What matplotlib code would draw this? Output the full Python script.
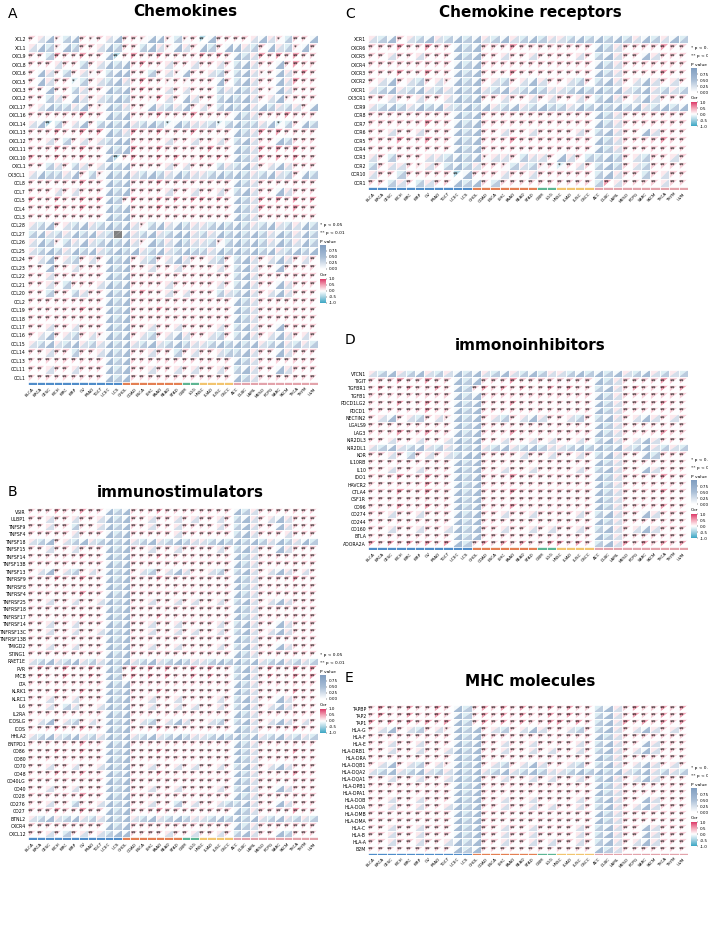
import numpy as np
import matplotlib
matplotlib.use("Agg")
import matplotlib.pyplot as plt
from matplotlib.collections import PolyCollection
from matplotlib.colors import LinearSegmentedColormap, Normalize
from matplotlib.colorbar import ColorbarBase

cancers = ["BLCA", "BRCA", "CESC", "KICH", "KIRC", "KIRP", "OV", "PRAD", "TGCT", "UCEC", "UCS",
           "CHOL", "COAD", "ESCA", "LIHC", "PAAD", "READ", "STAD",
           "GBM", "LGG",
           "HNSC", "LUAD", "LUSC", "OSCC",
           "ACC", "DLBC", "LAML", "MESO", "PCPG", "SARC", "SKCM", "THCA", "THYM", "UVM"]
group_sizes = [11, 7, 2, 4, 10]
group_colors = ["#4f8cc9", "#e47f52", "#5db592", "#f2c46f", "#e3a3ab"]

# cell codes: correlation level and p value
codes = {"R": (0.5, 0.001), "r": (0.25, 0.005), "p": (0.18, 0.03), "n": (0.12, 0.25),
         "w": (-0.05, 0.55), "b": (-0.18, 0.4), "m": (-0.2, 0.03), "B": (-0.4, 0.002),
         "x": (np.nan, np.nan)}

chemokines = [
    ("XCL2", "rnwpbwrprnw rrpwwpb pr Bwrr rrnwnpbrrw"),
    ("XCL1", "nwbpwbrrnwb rrbwnpw nr wbrw wnbrwnbpwr"),
    ("CXCL9", "rrbRrrRrrwB rRrrRrr rr RrRr wbnRrRrRrr"),
    ("CXCL8", "rrrnrrbrnwb wrRrrnr rn rrnr bwnrrwrRrr"),
    ("CXCL6", "rwnrbrnprbw wrrbrnp wr rnbr bwnprwnrRr"),
    ("CXCL5", "rwnrrmbrnbw nrRrrpr pr rrwr bwnrrwnRrr"),
    ("CXCL3", "rrwrrbnrrwb wrRrrnr nr rrbn wbnrpwnrrr"),
    ("CXCL2", "rrbnrwnrnbw brrpRnr wn rrbw bwnrnwprrr"),
    ("CXCL17", "rnwbbnwrpwb nrrwnbn wr nrbw bwnwbnbnrw"),
    ("CXCL16", "rrrrrrRrrwb wrrrRrr rR rrrr wbnrrrRrrr"),
    ("CXCL14", "nwBbrnwrbwb wnbwbmw bn nbmb wbbnwmbrwb"),
    ("CXCL13", "rrrRrrRrRwb nRrrRrr rR rrrr wbnRrRrrrr"),
    ("CXCL12", "rrnrbrnrnbw wrrrrnr rn rrnr bwnrrwbrrr"),
    ("CXCL11", "rrrRrrRrrwb wRrrRrr rr rRrr wbnRrRrRrr"),
    ("CXCL10", "RrrRrrRrrwB rRrrRrR rr RrRr wbnRrRrRrr"),
    ("CXCL1", "rrbnrbnrnwb wrrrrnr nr rrbn bwnrnwnrrr"),
    ("CX3CL1", "nwbbnwrbpwb wnbwbnw bn nbwb wbnbwnbrwb"),
    ("CCL8", "rrrrrrRrrwb wrrrRrr rr rrrr wbnrrrrrrr"),
    ("CCL7", "rrrnrnrrrwb wrrrrnr rn rrnr bwnrrwnrrr"),
    ("CCL5", "RrrRrrRrRwb rRrrRrR rR RrRr wbnRrRrRrR"),
    ("CCL4", "rrrRrrRrrwb wrrrRrr rr rrrr wbnRrrrRrr"),
    ("CCL3", "rrrrrrrrrwb wrrrrrr rr rrrr wbnrrrrrrr"),
    ("CCL28", "nbwrnbwnbwb wnpbwnw bn nbwb wbnbwnbnwb"),
    ("CCL27", "bwnbnwbwnbx wnbwnbw wn bnwb wbwbnwbnwb"),
    ("CCL26", "nwbpbnwnbwb wnpwbnw bn nbpb wbwbnwbnwb"),
    ("CCL25", "nbwbnwbwnbw bwnbwnb wb bnwb wbwbwnbwbw"),
    ("CCL24", "rnwrnbrnrwb wrnbrnw nr rnbr bwnrnwnrnr"),
    ("CCL23", "rrwrrnrrrwb wrrnrrn rr rrnr bwnrrwrrrr"),
    ("CCL22", "rrnrrrrrrwb wrrrrrr rr rrrr bwnrrrrrrr"),
    ("CCL21", "rrnrbrrrnwb wrrrrnr rr rrnr bwnrrwnrrr"),
    ("CCL20", "rrbrrbnrrwb wrRrrnr nr rrbn bwnrnwnrrr"),
    ("CCL2", "rrrrrrrrrwb wrrrrrr rr rrrr wbnrrrrrrr"),
    ("CCL19", "rrrrrrRrrwb wrrrRrr rr rrrr wbnrrrrrrr"),
    ("CCL18", "rrrrrrrrrwb wrrrrrr rr rrrr wbnrrrrrrr"),
    ("CCL17", "rrnrrnrrrwb wrrnrrn rr rrnr bwnrrwrrrr"),
    ("CCL16", "rnwrnbrnpwb wrnbrnw nr rnbr bwnrnwnrnr"),
    ("CCL15", "nbwnbwnbnwb wnbwnbw bn nbwb wbwnbwnbnb"),
    ("CCL14", "rrnrrbrrnwb wrrnrrb rn rrnb bwnrrwnrrr"),
    ("CCL13", "rrrrrrrrrwb wrrrrrr rr rrrr wbnrrrrrrr"),
    ("CCL11", "rrnrrnrrrwb wrrnrrn rn rrnr bwnrrwnrrr"),
    ("CCL1", "rrrrrrrrrwb wrrrrrr rr rrrr wbnrrrrrrr"),
]

stimulators = [
    ("VSIR", "rrrRrrRrrwb wrrrRrr rr rrrr wbnrrrrrrr"),
    ("ULBP1", "rrnrrnrrnwb wrrnrrn rn rrnr bwnrnwnrrr"),
    ("TNFSF9", "rrnrrbrrnwb wrrnrrn rr rrnr bwnrrwnrrr"),
    ("TNFSF4", "rrrrrnrrrwb wrrrrrn rr rrrr bwnrrrnrrr"),
    ("TNFSF18", "nbwrnbwnbwb wnbwnbw bn nbwb wbwbnwbnwb"),
    ("TNFSF15", "rrnrrnrrrwb wrrnrrn rr rrnr bwnrrwnrrr"),
    ("TNFSF14", "rrrrrrRrrwb wrrrRrr rr rrrr wbnrrrrrrr"),
    ("TNFSF13B", "rrrrrrrrrwb wrrrrrr rr rrrr wbnrrrrrrr"),
    ("TNFSF13", "rnwrnbrnpwb wrnbrnw nr rnbr bwnrnwnrnr"),
    ("TNFRSF9", "rrrRrrRrrwb wrrrRrr rr rrrr wbnrrrrRrr"),
    ("TNFRSF8", "rrrrrrrrrwb wrrrrrr rr rrrr wbnrrrrrrr"),
    ("TNFRSF4", "rrrrrrRrrwb wrrrrrr rr rrrr wbnrrrrrrr"),
    ("TNFRSF25", "rrnrrnrrnwb wrrnrrn rn rrnr bwnrnwnrrr"),
    ("TNFRSF18", "rrrrrrrrrwb wrrrrrr rr rrrr wbnrrrrrrr"),
    ("TNFRSF17", "rrrrrrRrrwb wrrrRrr rr rrrr wbnrrrrrrr"),
    ("TNFRSF14", "rrnrrnrrrwb wrrnrrn rr rrnr bwnrrwnrrr"),
    ("TNFRSF13C", "rrnrrnrrnwb wrrnrrn rn rrnr bwnrnwnrrr"),
    ("TNFRSF13B", "rrrrrrrrrwb wrrrrrr rr rrrr wbnrrrrrrr"),
    ("TMIGD2", "rrnrrnrrrwb wrrnrrn rr rrnr bwnrrwnrrr"),
    ("STING1", "rrrrrrrrrwb wrrrrrr rr rrrr wbnrrrrrrr"),
    ("RAET1E", "nbwnbwnbnwb wnbwnbw bn nbwb wbwnbwnbnb"),
    ("PVR", "rRrrRrrRrwb rRrRrRr rR rRrr bwnrRrrRrR"),
    ("MICB", "rRrrRrrRrwb rRrRrRr rR rRrr bwnrRrrRrR"),
    ("LTA", "rrrrrrrrrwb wrrrrrr rr rrrr wbnrrrrrrr"),
    ("KLRK1", "rrrRrrRrrwb wrrrRrr rr rrrr wbnrrrrRrr"),
    ("KLRC1", "rrnrrnrrrwb wrrnrrn rr rrnr bwnrrwnrrr"),
    ("IL6", "rrnrbnrrnwb wrrnrrn rn rrnr bwnrnwnrrr"),
    ("IL2RA", "rrrrrrrrrwb wrrrrrr rr rrrr wbnrrrrrrr"),
    ("ICOSLG", "rnwrnbrnpwb wrnbrnw nr rnbr bwnrnwnrnr"),
    ("ICOS", "rrrRrrRrrwb wrrrRrr rr rrrr wbnrrrrRrr"),
    ("HHLA2", "nbwnbwnbnwb wnbwnbw bn nbwb wbwnbwnbnb"),
    ("ENTPD1", "rrrrrrRrrwb wrrrrrr rr rrrr wbnrrrrrrr"),
    ("CD86", "rrrRrrRrrwb wrrrRrr rr rrrr wbnrrrrRrr"),
    ("CD80", "rrrrrrrrrwb wrrrrrr rr rrrr wbnrrrrrrr"),
    ("CD70", "rrnrrnrrnwb wrrnrrn rn rrnr bwnrnwnrrr"),
    ("CD48", "rrrRrrRrrwb wrrrRrr rr rrrr wbnrrrrRrr"),
    ("CD40LG", "rrrrrrrrrwb wrrrrrr rr rrrr wbnrrrrrrr"),
    ("CD40", "rrnrrnrrrwb wrrnrrn rr rrnr bwnrrwnrrr"),
    ("CD28", "rrrrrrRrrwb wrrrrrr rr rrrr wbnrrrrrrr"),
    ("CD276", "rrnrrbrrnwb wrrnrrb rn rrnb bwnrrwnrrr"),
    ("CD27", "rrrRrrRrrwb wrrrRrr rr rrrr wbnrrrrRrr"),
    ("BTNL2", "nbwnbwnbnwb wnbwnbw bn nbwb wbwnbwnbnb"),
    ("CXCR4", "rrrrrrrrrwb wrrrrrr rr rrrr wbnrrrrrrr"),
    ("CXCL12", "rrnrbrnrnbw wrrrrnr rn rrnr bwnrrwbrrr"),
]

receptors = [
    ("XCR1", "nbwrnbwnbwb wnbwnbw bn nbwb wbwbnwbnwb"),
    ("CXCR6", "rrrRrrRrrwb wrrrRrr rr rrrr wbnrrrrRrr"),
    ("CXCR5", "rrnrrnrrrwb wrrnrrn rr rrnr bwnrrwnrrr"),
    ("CXCR4", "rrrrrrrrrwb wrrrrrr rr rrrr wbnrrrrrrr"),
    ("CXCR3", "rrrRrrRrrwb wrrrRrr rr rrrr wbnrrrrRrr"),
    ("CXCR2", "rnwrnbrnpwb wrnbrnw nr rnbr bwnrnwnrnr"),
    ("CXCR1", "nbwnbwnbnwb wnbwnbw bn nbwb wbwnbwnbnb"),
    ("CX3CR1", "rrnrrnrrnwb wrrnrrn rn rrnr bwnrnwnrrr"),
    ("CCR9", "nbwbnwbwnbw bwnbwnb wb bnwb wbwbwnbwbw"),
    ("CCR8", "rrrrrrrrrwb wrrrrrr rr rrrr wbnrrrrrrr"),
    ("CCR7", "rrrrrrRrrwb wrrrrrr rr rrrr wbnrrrrrrr"),
    ("CCR6", "rrnrrnrrrwb wrrnrrn rr rrnr bwnrrwnrrr"),
    ("CCR5", "rrrRrrRrrwb wrrrRrr rr rrrr wbnrrrrRrr"),
    ("CCR4", "rrrrrrrrrwb wrrrrrr rr rrrr wbnrrrrrrr"),
    ("CCR3", "nrbrrrnnbwb wpnnrbn nr wnrb bwbrnbrrnr"),
    ("CCR2", "brnnrpnrbwb nrrpbnb pr mrnr bwbrnbrrrr"),
    ("CCR10", "nrrbrrrrrBw rrrnrrn rr rrrr bwnrrbrnrr"),
    ("CCR1", "rrbnrbnrrwb wrbrrrr rr rrrr bRnrrrrnrr"),
]

inhibitors = [
    ("VTCN1", "nbwnbwnbnwb wnbwnbw bn nbwb wbwnbwnbnb"),
    ("TIGIT", "rrrRrrRrrwb wrrrRrr rr rrrr wbnrrrrRrr"),
    ("TGFBR1", "rRrrRrrRrwb rRrRrRr rR rRrr bwnrRrrRrR"),
    ("TGFB1", "rrrrrrrrrwb wrrrrrr rr rrrr wbnrrrrrrr"),
    ("PDCD1LG2", "rrrRrrRrrwb wrrrRrr rr rrrr wbnrrrrRrr"),
    ("PDCD1", "rrrrrrRrrwb wrrrrrr rr rrrr wbnrrrrrrr"),
    ("NECTIN2", "rnwrnbrnpwb wrnbrnw nr rnbr bwnrnwnrnr"),
    ("LGALS9", "rrrrrrrrrwb wrrrrrr rr rrrr wbnrrrrrrr"),
    ("LAG3", "rrrRrrRrrwb wrrrRrr rr rrrr wbnrrrrRrr"),
    ("KIR2DL3", "rrnrrnrrnwb wrrnrrn rn rrnr bwnrnwnrrr"),
    ("KIR2DL1", "nbwnbwnbnwb wnbwnbw bn nbwb wbwnbwnbnb"),
    ("KDR", "rrnrbrnrnbw wrrrrnr rn rrnr bwnrrwbrrr"),
    ("IL10RB", "rrrrrrrrrwb wrrrrrr rr rrrr wbnrrrrrrr"),
    ("IL10", "rrnrrnrrrwb wrrnrrn rr rrnr bwnrrwnrrr"),
    ("IDO1", "rrrRrrRrrwb wrrrRrr rr rrrr wbnrrrrRrr"),
    ("HAVCR2", "rrrrrrRrrwb wrrrrrr rr rrrr wbnrrrrrrr"),
    ("CTLA4", "rrrRrrRrrwb wrrrRrr rr rrrr wbnrrrrRrr"),
    ("CSF1R", "rrrrrrrrrwb wrrrrrr rr rrrr wbnrrrrrrr"),
    ("CD96", "rrrRrrRrrwb wrrrRrr rr rrrr wbnrrrrRrr"),
    ("CD274", "rrnrrnrrrwb wrrnrrn rr rrnr bwnrrwnrrr"),
    ("CD244", "rrrrrrrrrwb wrrrrrr rr rrrr wbnrrrrrrr"),
    ("CD160", "rrnrrnrrnwb wrrnrrn rn rrnr bwnrnwnrrr"),
    ("BTLA", "rrrrrrrrrwb wrrrrrr rr rrrr wbnrrrrrrr"),
    ("ADORA2A", "RrRrRrRrRwb rRrRrRr rR RrRr bwnRrRrRrR"),
]

mhc = [
    ("TAPBP", "rRrrRrrRrwb rRrRrRr rR rRrr bwnrRrrRrR"),
    ("TAP2", "rRrrRrrRrwb rRrRrRr rR rRrr bwnrRrrRrR"),
    ("TAP1", "RrRrRrRrRwb rRrRrRr rR RrRr bwnRrRrRrR"),
    ("HLA-G", "rnwrnbrnpwb wrnbrnw nr rnbr bwnrnwnrnr"),
    ("HLA-F", "rrrrrrrrrwb wrrrrrr rr rrrr wbnrrrrrrr"),
    ("HLA-E", "rrnrrnrrrwb wrrnrrn rr rrnr bwnrrwnrrr"),
    ("HLA-DRB1", "rrnrrnrrnwb wrrnrrn rn rrnr bwnrnwnrrr"),
    ("HLA-DRA", "rrrrrrrrrwb wrrrrrr rr rrrr wbnrrrrrrr"),
    ("HLA-DQB1", "rnwrnbrnpwb wrnbrnw nr rnbr bwnrnwnrnr"),
    ("HLA-DQA2", "nbwnbwnbnwb wnbwnbw bn nbwb wbwnbwnbnb"),
    ("HLA-DQA1", "rrnrrnrrnwb wrrnrrn rn rrnr bwnrnwnrrr"),
    ("HLA-DPB1", "rrrrrrrrrwb wrrrrrr rr rrrr wbnrrrrrrr"),
    ("HLA-DPA1", "rrrrrrrrrwb wrrrrrr rr rrrr wbnrrrrrrr"),
    ("HLA-DOB", "rrnrrnrrrwb wrrnrrn rr rrnr bwnrrwnrrr"),
    ("HLA-DOA", "rrnrrnrrnwb wrrnrrn rn rrnr bwnrnwnrrr"),
    ("HLA-DMB", "rrrrrrrrrwb wrrrrrr rr rrrr wbnrrrrrrr"),
    ("HLA-DMA", "rrrrrrrrrwb wrrrrrr rr rrrr wbnrrrrrrr"),
    ("HLA-C", "rrnrrnrrrwb wrrnrrn rr rrnr bwnrrwnrrr"),
    ("HLA-B", "rrnrrnrrrwb wrrnrrn rr rrnr bwnrrwnrrr"),
    ("HLA-A", "rrnrrnrrnwb wrrnrrn rn rrnr bwnrnwnrrr"),
    ("B2M", "rrrrrrrrrwb wrrrrrr rr rrrr wbnrrrrrrr"),
]

cor_cmap = LinearSegmentedColormap.from_list(
    "cor", [(0, "#3aa6c4"), (0.25, "#a3d1e1"), (0.5, "#ffffff"), (0.75, "#f3a5b7"), (1, "#dc3a69")])
p_cmap = LinearSegmentedColormap.from_list("pv", ["#ffffff", "#a9bed6", "#7f9dc0"])
W, H = 708, 939


def to_arrays(rows):
    genes = [g for g, _ in rows]
    cor = np.array([[codes[c][0] for c in s.replace(" ", "")] for _, s in rows])
    pv = np.array([[codes[c][1] for c in s.replace(" ", "")] for _, s in rows])
    return genes, cor, pv


def heat(fig, rect, rows):
    genes, cor, pv = to_arrays(rows)
    ax = fig.add_axes([rect[0] / W, 1 - rect[3] / H, (rect[2] - rect[0]) / W, (rect[3] - rect[1]) / H])
    nr, nc = cor.shape
    up, lo, cu, cl = [], [], [], []
    for i in range(nr):
        for j in range(nc):
            up.append([(j, i), (j + 1, i), (j, i + 1)])
            lo.append([(j + 1, i), (j + 1, i + 1), (j, i + 1)])
            if np.isnan(cor[i, j]):
                cu.append((0.5, 0.5, 0.5, 1)); cl.append((0.5, 0.5, 0.5, 1))
            else:
                cu.append(cor_cmap((cor[i, j] + 1) / 2)); cl.append(p_cmap(pv[i, j]))
            if pv[i, j] < 0.05:
                ax.text(j + 0.32, i + 0.45, "**" if pv[i, j] < 0.01 else "*",
                        fontsize=4, ha="center", va="center", color="black", zorder=5)
    ax.add_collection(PolyCollection(up, facecolors=cu, edgecolors="none"))
    ax.add_collection(PolyCollection(lo, facecolors=cl, edgecolors="none"))
    # white grid between cells
    for k in range(nc + 1):
        ax.axvline(k, color="white", lw=0.6)
    for k in range(nr + 1):
        ax.axhline(k, color="white", lw=0.6)
    start = 0
    for size, col in zip(group_sizes, group_colors):
        ax.add_patch(plt.Rectangle((start, nr), size, 0.35, color=col, clip_on=False, lw=0))
        start += size
    ax.set_xlim(0, nc)
    ax.set_ylim(nr + 0.35, 0)
    ax.set_yticks(np.arange(nr) + 0.5)
    ax.set_yticklabels(genes, fontsize=3.3)
    ax.set_xticks(np.arange(nc) + 0.5)
    ax.set_xticklabels(cancers, fontsize=3.0, rotation=45, ha="right", rotation_mode="anchor")
    ax.tick_params(length=0, pad=1.5)
    for s in ax.spines.values():
        s.set_visible(False)
    return ax


def legend(fig, x, y):
    fig.text(x / W, 1 - y / H, "* p < 0.05", fontsize=3.2, va="center")
    fig.text(x / W, 1 - (y + 8) / H, "** p < 0.01", fontsize=3.2, va="center")
    fig.text(x / W, 1 - (y + 17) / H, "P value", fontsize=3.2, va="center")
    cax = fig.add_axes([x / W, 1 - (y + 44) / H, 6 / W, 24 / H])
    cb = ColorbarBase(cax, cmap=p_cmap, norm=Normalize(0, 1), ticks=[0, 0.25, 0.5, 0.75])
    cb.ax.set_yticklabels(["0.00", "0.25", "0.50", "0.75"])
    cb.ax.tick_params(labelsize=3, length=1, width=0.3, pad=1)
    cb.outline.set_visible(False)
    fig.text(x / W, 1 - (y + 50) / H, "Cor", fontsize=3.2, va="center")
    cax2 = fig.add_axes([x / W, 1 - (y + 78) / H, 6 / W, 24 / H])
    cb2 = ColorbarBase(cax2, cmap=cor_cmap, norm=Normalize(-1, 1), ticks=[-1, -0.5, 0, 0.5, 1])
    cb2.ax.set_yticklabels(["-1.0", "-0.5", "0.0", "0.5", "1.0"])
    cb2.ax.tick_params(labelsize=3, length=1, width=0.3, pad=1)
    cb2.outline.set_visible(False)


fig = plt.figure(figsize=(W / 100, H / 100), dpi=100)

panels = [
    ("A", "Chemokines", chemokines, (28, 35, 318, 385), (8, 14), (185, 12), (320, 225)),
    ("B", "immunostimulators", stimulators, (28, 508, 318, 840), (8, 492), (180, 492), (320, 655)),
    ("C", "Chemokine receptors", receptors, (368, 35, 688, 190), (345, 14), (530, 12), (691, 48)),
    ("D", "immonoinhibitors", inhibitors, (368, 370, 688, 550), (345, 340), (530, 345), (691, 460)),
    ("E", "MHC molecules", mhc, (368, 705, 688, 855), (345, 678), (530, 682), (691, 768)),
]
for letter, title, rows, rect, lpos, tpos, legpos in panels:
    heat(fig, rect, rows)
    fig.text(lpos[0] / W, 1 - lpos[1] / H, letter, fontsize=10, va="center")
    fig.text(tpos[0] / W, 1 - tpos[1] / H, title, fontsize=11, fontweight="bold", ha="center", va="center")
    legend(fig, *legpos)

fig.savefig("out.png", dpi=100)
